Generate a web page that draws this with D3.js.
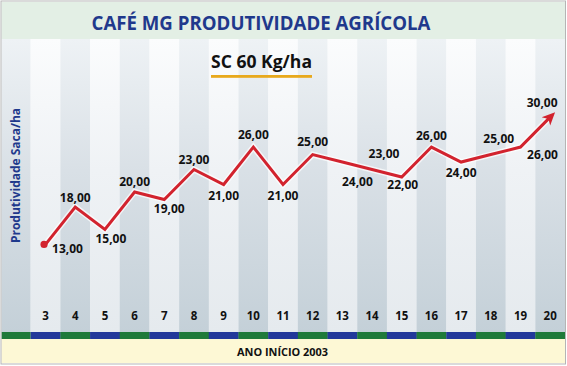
<!DOCTYPE html>
<html>
<head>
<meta charset="utf-8">
<script src="https://cdn.jsdelivr.net/npm/d3@7/dist/d3.min.js"></script>
<style>
  html, body { margin: 0; padding: 0; background: #fff; }
  svg { display: block; }
  text { font-family: "Open Sans", "Noto Sans", sans-serif; font-weight: bold; }
</style>
</head>
<body>
<script>
// ---- data ----
const years = [3, 4, 5, 6, 7, 8, 9, 10, 11, 12, 13, 14, 15, 16, 17, 18, 19, 20];
const values = [13, 18, 15, 20, 19, 23, 21, 26, 21, 25, 24, 23, 22, 26, 24, 25, 26, 30];
const valueLabels = ["13,00", "18,00", "15,00", "20,00", "19,00", "23,00", "21,00", "26,00", "21,00",
                     "25,00", "24,00", "23,00", "22,00", "26,00", "24,00", "25,00", "26,00", "30,00"];
const titleText = "CAFÉ MG PRODUTIVIDADE AGRÍCOLA";
const subtitleText = "SC 60 Kg/ha";
const yAxisTitle = "Produtividade Saca/ha";
const xAxisTitle = "ANO INÍCIO 2003";

// label placement (layout only): offset of each value label from its point
const labelDx = [22, 0, 6, 0, 5, 0, 0, 0, 0, 0, 15, 12, 1, 0, 0, 8, 22, -8];
const labelDy = [9, -5, 14, -6, 14, -6, 15, -8, 15, -9, 24, -12, 12, -7, 15, -12, 12, -10];

const W = 567, H = 366;
const svg = d3.select("body").append("svg").attr("width", W).attr("height", H);
const defs = svg.append("defs");

function vgrad(id, top, mid, bottom) {
  const g = defs.append("linearGradient").attr("id", id).attr("x1", 0).attr("y1", 0).attr("x2", 0).attr("y2", 1);
  g.append("stop").attr("offset", "0%").attr("stop-color", top);
  g.append("stop").attr("offset", "45%").attr("stop-color", mid);
  g.append("stop").attr("offset", "100%").attr("stop-color", bottom);
}
vgrad("gDark", "#eef2f5", "#d9e0e6", "#c4d0d8");
vgrad("gLight", "#fbfcfd", "#eff2f5", "#e5eaee");

const plotTop = 39, plotBottom = 332, leftEdge = 1.5, rightEdge = 565;
const x = d3.scaleBand().domain(years).range([30.7, rightEdge]).padding(0);
const y = d3.scaleLinear().domain([0, 30]).range([341.8, 117.1]);
const bw = x.bandwidth();
const cx = d => x(d) + bw / 2;

// background
svg.append("rect").attr("x", 0).attr("y", 0).attr("width", W).attr("height", H).attr("fill", "#fff");

// title band
svg.append("rect").attr("x", leftEdge).attr("y", 2).attr("width", rightEdge - leftEdge).attr("height", plotTop - 2)
  .attr("fill", "#e3efe5");

// stripes
svg.append("rect").attr("x", leftEdge).attr("y", plotTop).attr("width", x.range()[0] - leftEdge)
  .attr("height", plotBottom - plotTop).attr("fill", "url(#gDark)");
svg.append("g").selectAll("rect").data(years).join("rect")
  .attr("x", d => x(d)).attr("y", plotTop).attr("width", bw + 0.3).attr("height", plotBottom - plotTop)
  .attr("fill", d => d % 2 === 0 ? "url(#gDark)" : "url(#gLight)");

// bottom colour bar
svg.append("rect").attr("x", leftEdge).attr("y", plotBottom).attr("width", x.range()[0] - leftEdge)
  .attr("height", 7).attr("fill", "#1f7a3a");
svg.append("g").selectAll("rect").data(years).join("rect")
  .attr("x", d => x(d)).attr("y", plotBottom).attr("width", bw + 0.3).attr("height", 7)
  .attr("fill", d => d % 2 === 0 ? "#1f7a3a" : "#22389a");

// yellow band
svg.append("rect").attr("x", leftEdge).attr("y", plotBottom + 7).attr("width", rightEdge - leftEdge)
  .attr("height", 363 - plotBottom - 7).attr("fill", "#fdf8d5");

// outer border
svg.append("rect").attr("x", 1).attr("y", 1).attr("width", rightEdge - 0.5).attr("height", 363)
  .attr("fill", "none").attr("stroke", "#b5b5b5").attr("stroke-width", 1);

// x axis (tick labels only)
const xAxis = d3.axisBottom(x).tickSize(0).tickPadding(0);
const gx = svg.append("g").attr("transform", "translate(0,312)").call(xAxis);
gx.select(".domain").remove();
gx.selectAll("text").attr("font-size", "11.5px").attr("fill", "#111")
  .attr("font-family", "'Open Sans', sans-serif").attr("font-weight", "bold");

// x axis title
svg.append("text").attr("x", 282.5).attr("y", 356).attr("text-anchor", "middle")
  .attr("font-size", "10.5px").attr("fill", "#111").attr("textLength", 91).attr("lengthAdjust", "spacingAndGlyphs")
  .text(xAxisTitle);

// title
svg.append("text").attr("x", 261).attr("y", 30).attr("text-anchor", "middle")
  .attr("font-size", "19.5px").attr("fill", "#1f398c").attr("textLength", 339).attr("lengthAdjust", "spacingAndGlyphs")
  .text(titleText);

// subtitle + underline
svg.append("text").attr("x", 261.5).attr("y", 67.5).attr("text-anchor", "middle")
  .attr("font-size", "18.5px").attr("fill", "#111").attr("textLength", 101).attr("lengthAdjust", "spacingAndGlyphs")
  .text(subtitleText);
svg.append("rect").attr("x", 211).attr("y", 75).attr("width", 101).attr("height", 2.8).attr("fill", "#e8a91c");

// y axis title
svg.append("text").attr("transform", "translate(20,175.5) rotate(-90)").attr("text-anchor", "middle")
  .attr("font-size", "12px").attr("fill", "#1f398c").attr("textLength", 135).attr("lengthAdjust", "spacingAndGlyphs")
  .text(yAxisTitle);

// line
const pts = years.map((d, i) => [cx(d), y(values[i])]);
const line = d3.line();
defs.append("marker").attr("id", "arrow").attr("markerUnits", "userSpaceOnUse")
  .attr("viewBox", "0 0 14 14").attr("refX", 6).attr("refY", 7)
  .attr("markerWidth", 14).attr("markerHeight", 14).attr("orient", "auto")
  .append("path").attr("d", "M0,1 L13,7 L0,13 L3.5,7 Z").attr("fill", "#d2232e");

svg.append("path").attr("d", line(pts)).attr("fill", "none")
  .attr("stroke", "#ffffff").attr("stroke-opacity", 0.7).attr("stroke-width", 6).attr("stroke-linejoin", "miter");
svg.append("path").attr("d", line(pts)).attr("fill", "none")
  .attr("stroke", "#d2232e").attr("stroke-width", 3).attr("stroke-linejoin", "miter")
  .attr("marker-end", "url(#arrow)");
svg.append("circle").attr("cx", pts[0][0] - 1.5).attr("cy", pts[0][1]).attr("r", 3.6).attr("fill", "#d2232e");

// value labels
svg.append("g").selectAll("text").data(years).join("text")
  .attr("x", (d, i) => cx(d) + labelDx[i])
  .attr("y", (d, i) => y(values[i]) + labelDy[i])
  .attr("text-anchor", "middle").attr("font-size", "12px").attr("fill", "#111")
  .text((d, i) => valueLabels[i]);
</script>
</body>
</html>
